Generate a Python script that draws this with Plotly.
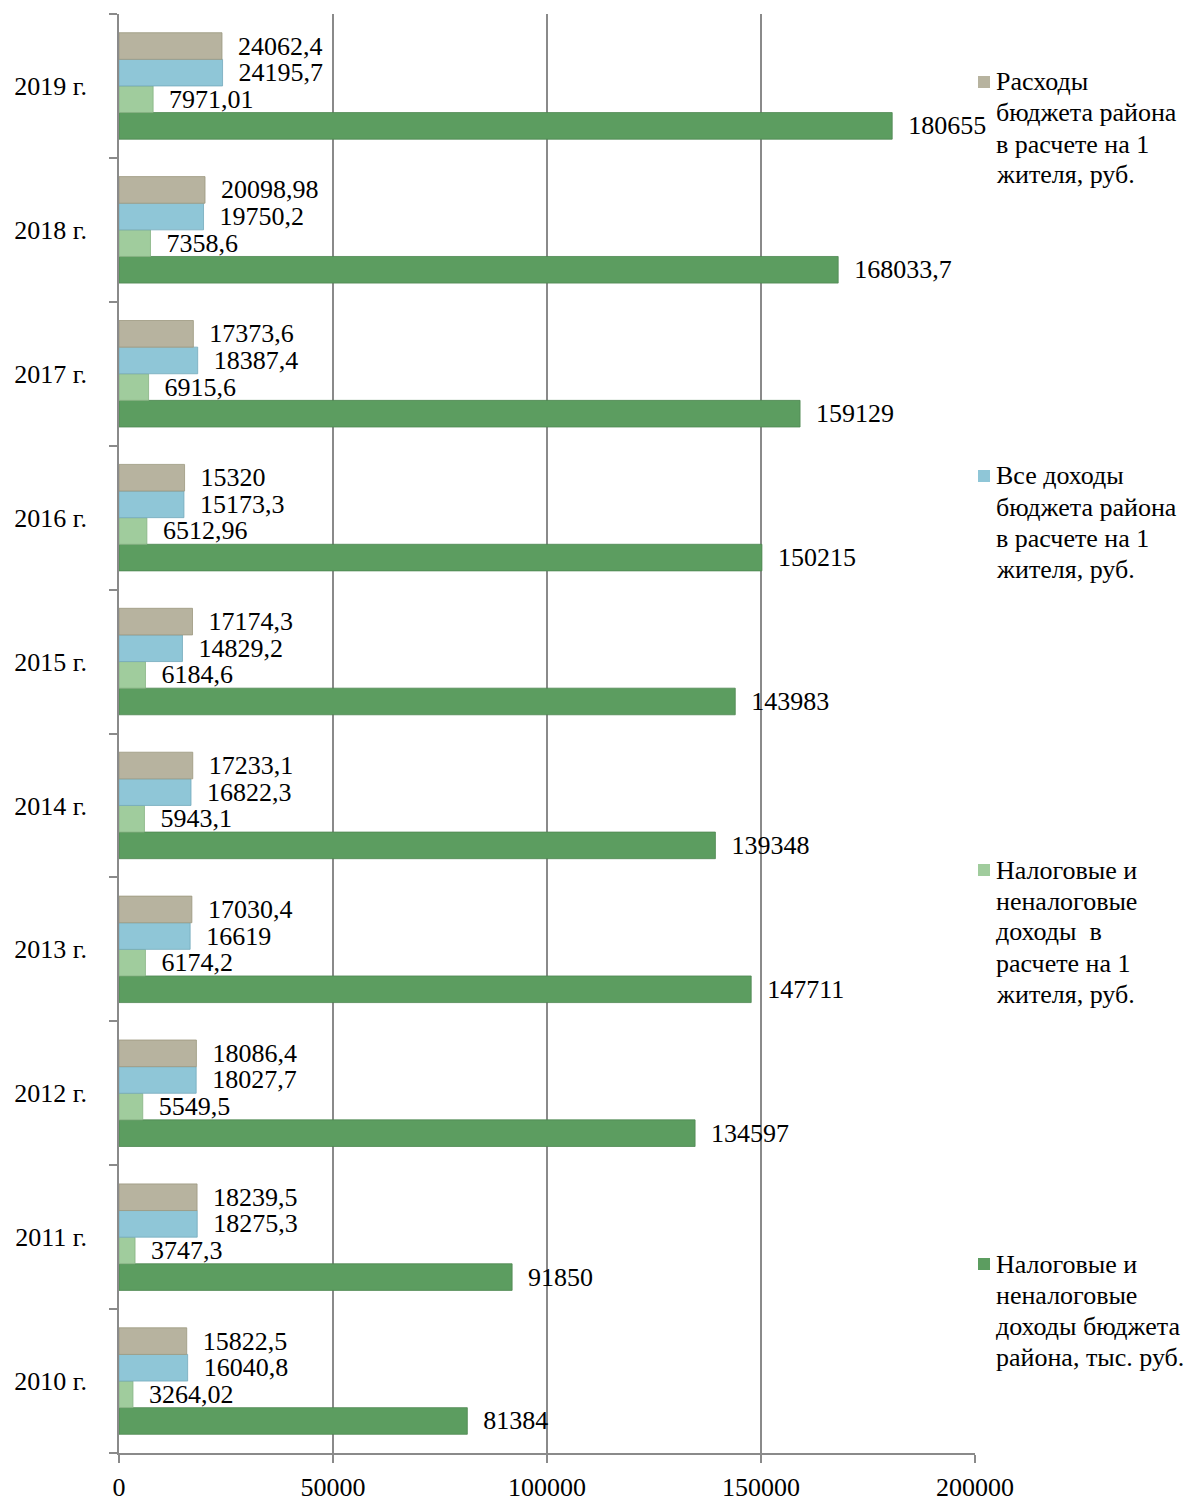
import plotly.graph_objects as go

years = ["2010 г.", "2011 г.", "2012 г.", "2013 г.", "2014 г.",
         "2015 г.", "2016 г.", "2017 г.", "2018 г.", "2019 г."]

expenses_per_capita = [15822.5, 18239.5, 18086.4, 17030.4, 17233.1,
                       17174.3, 15320, 17373.6, 20098.98, 24062.4]
all_income_per_capita = [16040.8, 18275.3, 18027.7, 16619, 16822.3,
                         14829.2, 15173.3, 18387.4, 19750.2, 24195.7]
tax_income_per_capita = [3264.02, 3747.3, 5549.5, 6174.2, 5943.1,
                         6184.6, 6512.96, 6915.6, 7358.6, 7971.01]
tax_income_total = [81384, 91850, 134597, 147711, 139348,
                    143983, 150215, 159129, 168033.7, 180655]

series_names = [
    ["Налоговые и", "неналоговые", "доходы бюджета", "района, тыс. руб."],
    ["Налоговые и", "неналоговые", "доходы  в", "расчете на 1", "жителя, руб."],
    ["Все доходы", "бюджета района", "в расчете на 1", "жителя, руб."],
    ["Расходы", "бюджета района", "в расчете на 1", "жителя, руб."],
]
series_values = [tax_income_total, tax_income_per_capita,
                 all_income_per_capita, expenses_per_capita]
colors = ["#5c9d60", "#a0cc9d", "#8fc6d7", "#b7b39f"]
line_colors = ["#4e8751", "#86b383", "#74aabb", "#9c987f"]

FONT = "Liberation Serif"
FS = 26
W, H = 1190, 1501
ML, MR, MT, MB = 119, 215, 14, 48
PW, PH = W - ML - MR, H - MT - MB


def fmt(v):
    return "\u00a0\u00a0" + str(v).replace(".", ",")


fig = go.Figure()
for name, vals, c, lc in zip(series_names, series_values, colors, line_colors):
    fig.add_trace(go.Bar(
        y=years, x=vals, orientation="h", name=" ".join(name),
        marker=dict(color=c, line=dict(color=lc, width=0.8)),
        text=[fmt(v) for v in vals], textposition="outside",
        textfont=dict(family=FONT, size=FS, color="#000"),
        constraintext="none", cliponaxis=False,
        showlegend=False,
    ))

# legend drawn as annotations + squares, spread along the right side
legend_first_line_y = [1264, 870, 476, 82]  # pixel centers of first text line
LINE = 31
for i in range(4):
    yc = legend_first_line_y[i]
    for k, line in enumerate(series_names[i]):
        fig.add_annotation(
            xref="paper", yref="paper",
            x=(994 - ML) / PW, y=1 - (yc + k * LINE - MT) / PH,
            xanchor="left", yanchor="middle", align="left",
            text=line, showarrow=False,
            font=dict(family=FONT, size=FS, color="#000"),
        )
    fig.add_shape(
        type="rect", xref="paper", yref="paper",
        x0=(978 - ML) / PW, x1=(990 - ML) / PW,
        y0=1 - (yc + 6 - MT) / PH, y1=1 - (yc - 6 - MT) / PH,
        fillcolor=colors[i], line=dict(width=0),
    )

fig.update_layout(
    width=W, height=H,
    margin=dict(l=ML, r=MR, t=MT, b=MB, autoexpand=False),
    paper_bgcolor="white", plot_bgcolor="white",
    barmode="group", bargap=0.26, bargroupgap=0,
    font=dict(family=FONT, size=FS, color="#000"),
    showlegend=False,
)
fig.update_xaxes(
    range=[0, 200000], dtick=50000, tickformat="d",
    showgrid=True, gridcolor="#8a8a8a", gridwidth=1.5,
    zeroline=False, showline=True, linecolor="#8a8a8a", linewidth=1.5,
    ticks="outside", ticklen=8, tickcolor="#8a8a8a", tickwidth=1.5,
    tickfont=dict(family=FONT, size=FS, color="#000"),
    ticklabelstandoff=2, automargin=False,
)
fig.update_yaxes(
    showgrid=False, showline=True, linecolor="#8a8a8a", linewidth=1.5,
    ticks="outside", ticklen=8, tickcolor="#8a8a8a", tickwidth=1.5,
    tickson="boundaries",
    tickfont=dict(family=FONT, size=FS, color="#000"),
    ticklabelstandoff=25, automargin=False,
)

fig.write_html("out.html", config={"displayModeBar": False},
               post_script="document.body.style.margin='0';")
